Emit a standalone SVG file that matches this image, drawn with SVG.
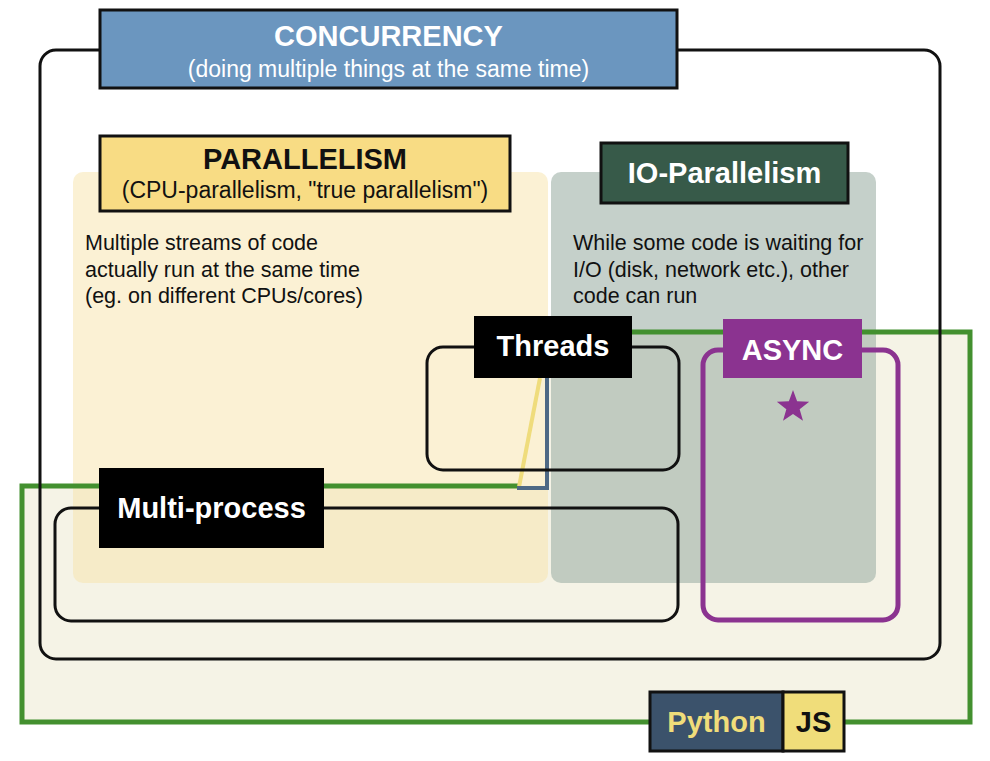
<svg xmlns="http://www.w3.org/2000/svg" width="990" height="761" viewBox="0 0 990 761">
<style>
.b{font-family:"Liberation Sans",Arial,Helvetica,sans-serif;font-weight:bold;font-size:29px;text-anchor:middle}
.s{font-family:"Liberation Sans",Arial,Helvetica,sans-serif;font-size:23px;text-anchor:middle}
.d{font-family:"Liberation Sans",Arial,Helvetica,sans-serif;font-size:21.5px;fill:#111}
.outline{fill:none;stroke:#111;stroke-width:3}
.lab{stroke:#111;stroke-width:3}
</style>
<rect width="990" height="761" fill="#ffffff"/>
<g id="python-region">
<path d="M22,486 H547 V332 H970 V722 H22 Z" fill="#f5f3e6"/>
</g>
<g id="parallelism-area">
<rect x="73" y="172" width="475" height="411" rx="10" fill="#f7e3a9" fill-opacity="0.5"/>
</g>
<g id="io-area">
<rect x="551" y="172" width="325" height="411" rx="10" fill="#9eb0a7" fill-opacity="0.6"/>
</g>
<g id="connectors">
<path d="M547,332 H970 V722 H22 V486 H518" fill="none" stroke="#43902f" stroke-width="5"/>
<path d="M519,487 L540,378" fill="none" stroke="#efdc7c" stroke-width="4"/>
<path d="M517,488 H547 V378" fill="none" stroke="#4e6985" stroke-width="4"/>
</g>
<g id="concurrency">
<rect x="40" y="50" width="900" height="609" rx="16" class="outline"/>
</g>
<g id="threads-box">
<rect x="427" y="347" width="252" height="123" rx="16" class="outline"/>
</g>
<g id="multiprocess-box">
<rect x="55" y="508" width="623" height="113" rx="16" class="outline"/>
</g>
<g id="async-box">
<rect x="703" y="350" width="195" height="270" rx="15" fill="none" stroke="#8b3390" stroke-width="5"/>
<polygon points="793,390 797.11,401.34 809.17,401.75 799.66,409.16 802.99,420.75 793,414 783.01,420.75 786.34,409.16 776.83,401.75 788.89,401.34" fill="#8b3390"/>
</g>
<g id="concurrency-label">
<rect x="100" y="10" width="577" height="78" fill="#6b96bf" class="lab"/>
<text x="388.5" y="46" class="b" fill="#ffffff" font-size="29">CONCURRENCY</text>
<text x="388.5" y="77" class="s" fill="#ffffff">(doing multiple things at the same time)</text>
</g>
<g id="parallelism-label">
<rect x="100" y="136" width="410" height="75" fill="#f8dc84" class="lab"/>
<text x="305" y="169" class="b" fill="#111">PARALLELISM</text>
<text x="305" y="198" class="s" fill="#111">(CPU-parallelism, "true parallelism")</text>
</g>
<g id="parallelism-desc">
<text x="85" y="250" class="d">Multiple streams of code</text>
<text x="85" y="277" class="d">actually run at the same time</text>
<text x="85" y="303" class="d">(eg. on different CPUs/cores)</text>
</g>
<g id="io-label">
<rect x="601" y="143" width="247" height="60" fill="#375a49" class="lab"/>
<text x="724.5" y="183" class="b" fill="#ffffff">IO-Parallelism</text>
</g>
<g id="io-desc">
<text x="573" y="250" class="d">While some code is waiting for</text>
<text x="573" y="277" class="d">I/O (disk, network etc.), other</text>
<text x="573" y="303" class="d">code can run</text>
</g>
<g id="threads-label">
<rect x="474" y="316" width="158" height="62" fill="#000000"/>
<text x="553" y="356" class="b" fill="#ffffff">Threads</text>
</g>
<g id="multiprocess-label">
<rect x="99" y="468" width="225" height="80" fill="#000000"/>
<text x="211.5" y="518" class="b" fill="#ffffff">Multi-process</text>
</g>
<g id="async-label">
<rect x="723" y="319" width="139" height="59" fill="#8b3390"/>
<text x="792.5" y="360" class="b" fill="#ffffff">ASYNC</text>
</g>
<g id="python-js-label">
<rect x="650" y="692" width="133" height="59" fill="#3b526b" class="lab"/>
<rect x="783" y="692" width="61" height="59" fill="#f0dd7a" class="lab"/>
<text x="716.5" y="732" class="b" fill="#f0dd7a">Python</text>
<text x="813.5" y="732" class="b" fill="#111">JS</text>
</g>
</svg>
